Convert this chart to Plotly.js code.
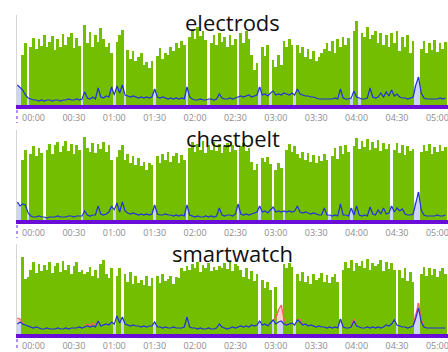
<!DOCTYPE html>
<html>
<head>
<meta charset="utf-8">
<script src="https://cdn.plot.ly/plotly-3.0.1.min.js"></script>
<style>html,body{margin:0;padding:0;overflow:hidden;background:#fff}#chart{width:448px;height:352px}</style>
</head>
<body>
<div id="chart"></div>
<script>
// ---- data (2-minute samples) ----
const panelTitles = ["electrods", "chestbelt", "smartwatch"];
const barStartMin = -8;    // first bar at 23:52
const lineStartMin = -12;  // first line sample at 23:48
const stepMin = 2;

const electrodsBars = [50,62,0,58,67,56,66,59,70,58, 63,69,55,66,58,71,60,68,72,57, 67,59,0,80,62,73,58,70,63,77, 66,58,62,52,0,63,70,75,0,55, 46,54,44,48,52,40,43,37,44,0, 49,57,46,52,50,58,54,62,57,64, 60,0,68,76,66,78,69,74,65,0, 62,70,60,72,63,68,58,70,60,66, 0,72,62,74,66,50,35,42,0,58, 49,60,0,45,38,50,40,64,58,66, 60,0,60,52,58,48,56,46,54,44, 48,52,56,62,54,64,52,66,58,68, 60,67,0,74,84,0,72,68,78,66, 70,74,62,72,60,70,58,72,62,74, 54,68,58,70,52,64,0,0,56,64, 52,62,55,65,53,62,56,63];
const chestbeltBars = [60,70,0,66,74,64,72,67,0,70, 76,66,75,78,68,74,79,69,76,66, 75,70,0,83,72,68,77,67,76,71, 78,68,75,60,0,63,70,75,60,66, 57,64,55,62,54,58,50,57,55,0, 64,57,66,60,68,58,64,67,57,65, 60,0,72,78,68,76,70,79,67,75, 70,78,69,76,67,74,77,68,75,70, 0,74,77,69,72,58,50,56,0,62, 58,63,56,0,50,57,52,0,70,76, 68,74,66,62,68,60,67,58,65,57, 64,59,66,60,0,64,72,61,74,66, 75,68,0,74,82,71,79,73,81,70, 78,72,80,69,77,71,76,0,70,77, 67,75,65,74,69,71,0,0,68,75, 69,76,66,73,68,75,69,73];
const smartwatchBars = [77,55,57,64,72,61,70,63,69,64, 72,61,68,71,62,73,64,69,60,68, 72,62,64,60,62,67,58,64,56,70, 74,60,56,66,0,58,66,0,60,52, 62,50,58,51,54,49,58,48,56,0, 58,51,60,53,55,58,50,57,56,66, 63,68,64,70,66,72,62,69,66,71, 63,67,64,68,66,71,65,72,63,70, 68,64,57,66,55,63,53,60,0,54, 46,52,44,0,47,0,0,70,66,71, 67,0,60,53,62,52,58,50,60,54, 56,61,52,59,51,57,60,52,0,64, 72,66,74,63,71,68,73,66,75,64, 71,68,70,74,63,72,65,71,64,0, 64,56,66,53,62,52,0,0,60,67, 58,66,59,65,57,63,66,60];

const electrodsHR = [20,17,15,10,7,6,5,5,4,5,4,5,5,4,5,5,4,5,5,6,5,5,6,5,6,13,7,6,8,6,17,8,7,9,8,18,10,19,12,20,10,9,8,9,8,7,8,7,8,7,8,16,8,7,8,7,6,7,6,7,6,7,6,18,8,6,5,5,6,5,5,6,6,5,6,11,7,6,6,7,6,7,8,9,8,9,10,8,9,10,18,10,11,9,12,14,10,11,10,12,11,10,12,10,16,11,10,9,9,8,8,7,6,6,6,6,6,6,7,6,16,7,6,6,7,14,8,7,6,6,7,17,8,7,8,12,8,13,9,15,9,11,8,7,7,6,7,8,20,28,12,7,6,6,6,6,6,7,6,7];
const chestbeltHR = [18,14,16,15,7,4,3,3,4,3,3,2,3,3,3,4,3,3,3,4,4,3,4,4,4,9,5,4,5,5,14,6,5,6,8,14,10,17,8,18,9,7,6,7,6,5,6,5,6,5,6,15,6,5,5,6,5,5,4,5,4,5,4,15,5,4,3,4,3,3,4,3,4,3,4,12,5,4,5,5,4,6,16,6,5,6,5,6,7,8,14,8,9,7,10,13,8,9,8,9,8,9,8,9,14,8,7,8,7,6,7,6,5,5,12,5,5,4,5,4,16,5,5,4,12,5,14,5,4,5,4,13,6,5,10,6,12,6,7,14,8,12,9,11,6,5,5,6,18,28,10,5,4,4,4,4,5,4,4,5];
const smartwatchHR = [10,12,10,9,8,7,6,7,6,5,5,6,5,5,5,6,5,5,6,5,6,6,6,7,6,7,8,7,8,7,13,8,9,10,9,12,10,18,11,17,10,9,8,9,8,8,7,8,7,8,8,12,7,7,6,7,6,6,7,6,6,6,7,17,7,6,6,5,6,5,5,6,5,5,6,10,7,6,5,6,7,6,7,8,7,8,7,9,8,9,13,9,10,8,11,14,10,12,13,10,9,10,11,9,14,12,9,10,8,9,8,7,8,7,7,6,7,6,7,6,15,7,6,6,7,13,8,7,6,6,7,6,7,6,7,6,7,9,8,10,14,9,8,7,7,6,7,8,16,26,12,7,6,6,6,6,6,6,6,6];

// smartwatch reference segments (minutes from 00:00, null = break)
const smartwatchRefMin = [-12,-10,-8,null,38,40,42,44,46,48,null,178,180,182,184,186,188,null,196,198,200,null,236,238,240,null,282,284,286,288,290];
const smartwatchRefVal = [16,15,11,null,9,10,8,11,9,12,null,14,16,24,29,15,9,null,14,15,9,null,7,15,8,null,8,20,31,15,7];

const tickFormat = "%H:%M";

// ---- helpers ----
const base = Date.UTC(2024, 0, 2, 0, 0, 0);
function toDate(min) {
  if (min === null) return null;
  return new Date(base + min * 60000).toISOString().replace('T', ' ').replace('Z', '');
}
function times(startMin, n) {
  const out = [];
  for (let i = 0; i < n; i++) out.push(toDate(startMin + i * stepMin));
  return out;
}

const GREEN = '#74be00', BLUE = '#2230e0', BLUEFILL = '#ccd4ff', RED = '#ff5a5a', REDFILL = '#ffd0d0', PURPLE = '#6a0dd8';
const barW = stepMin * 60000;

const bars = [electrodsBars, chestbeltBars, smartwatchBars];
const hrs = [electrodsHR, chestbeltHR, smartwatchHR];
const traces = [];
const suffix = ['', '2', '3'];

for (let p = 0; p < 3; p++) {
  const xa = 'x' + suffix[p], ya = 'y' + suffix[p];
  const bx = times(barStartMin, bars[p].length);
  const lx = times(lineStartMin, hrs[p].length);
  if (p === 2) {
    traces.push({type: 'bar', x: smartwatchRefMin.map(toDate), y: smartwatchRefVal, width: barW,
      marker: {color: REDFILL, line: {width: 0}}, opacity: 1, xaxis: xa, yaxis: ya, hoverinfo: 'skip'});
  }
  traces.push({type: 'bar', x: lx, y: hrs[p], width: barW,
    marker: {color: BLUEFILL, line: {width: 0}}, opacity: 1, xaxis: xa, yaxis: ya, hoverinfo: 'skip'});
  traces.push({type: 'bar', x: bx, y: bars[p], width: barW,
    marker: {color: GREEN, line: {width: 0}}, opacity: 1, xaxis: xa, yaxis: ya});
  if (p === 2) {
    traces.push({type: 'scatter', mode: 'lines', x: smartwatchRefMin.map(toDate), y: smartwatchRefVal,
      line: {color: RED, width: 1.2}, connectgaps: false, xaxis: xa, yaxis: ya});
  }
  traces.push({type: 'scatter', mode: 'lines', x: lx, y: hrs[p],
    line: {color: BLUE, width: 1.2}, xaxis: xa, yaxis: ya});
}

const H = 352;
function dom(topPx, botPx) { return [1 - botPx / H, 1 - topPx / H]; }
const panelPx = [[15, 105], [130, 220], [244, 334]];
const titleCenterPx = [22, 137.5, 252.5];
const dashPx = [[110, 123], [225, 238], [339, 350]];
const standoff = [2, 2, 1];

const layout = {
  width: 448, height: 352,
  margin: {l: 17, r: 0, t: 0, b: 0},
  paper_bgcolor: '#fff', plot_bgcolor: '#fff',
  showlegend: false, barmode: 'overlay', bargap: 0,
  font: {family: 'Open Sans, sans-serif'},
  annotations: [], shapes: []
};
for (let p = 0; p < 3; p++) {
  layout['xaxis' + suffix[p]] = {
    type: 'date', domain: [0, 1], anchor: 'y' + suffix[p],
    range: [toDate(-12.26), toDate(307.9)],
    tick0: toDate(0), dtick: 30 * 60000, tickformat: tickFormat,
    showgrid: false, zeroline: false, ticks: '',
    ticklabelstandoff: standoff[p], ticklabeloverflow: 'allow',
    showline: true, linecolor: PURPLE, linewidth: 3.5,
    tickfont: {size: 9, color: '#8c8c8c', family: 'Open Sans, sans-serif'}
  };
  layout['yaxis' + suffix[p]] = {
    domain: dom(panelPx[p][0], panelPx[p][1]), anchor: 'x' + suffix[p],
    range: [0, 90], showgrid: false, zeroline: false, showticklabels: false, ticks: '',
    showline: true, linecolor: '#d6d6d6', linewidth: 1
  };
  layout.annotations.push({
    text: panelTitles[p], xref: 'paper', yref: 'paper', x: 0.5, y: 1 - titleCenterPx[p] / H,
    xanchor: 'center', yanchor: 'middle', showarrow: false, height: 22, borderpad: 0,
    font: {size: 22, color: '#111', family: 'Open Sans, sans-serif'}
  });
  layout.shapes.push({
    type: 'line', xref: 'paper', yref: 'paper', x0: 0, x1: 0,
    y0: 1 - dashPx[p][0] / H, y1: 1 - dashPx[p][1] / H,
    line: {color: '#9b6bf0', width: 1.5, dash: 'dot'}
  });
}

Plotly.newPlot('chart', traces, layout, {displayModeBar: false, staticPlot: true});
</script>
</body>
</html>
